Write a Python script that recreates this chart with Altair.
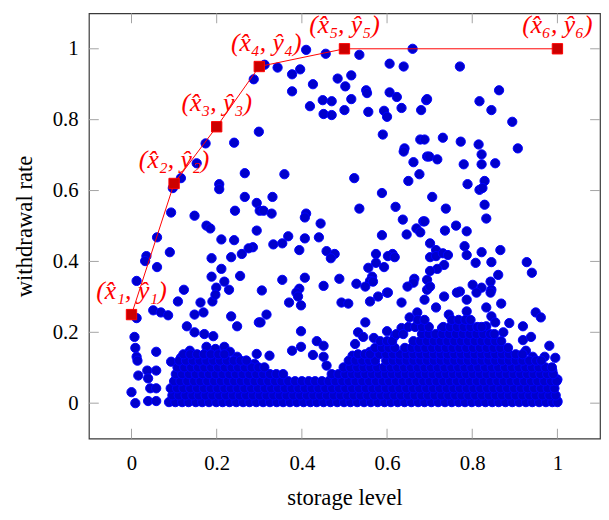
import altair as alt
import pandas as pd

# ---------------- data ----------------
# scattered (sparse) observations: storage level, withdrawal rate
scatter_x = [
    0.41, 0.456, 0.535, 0.66, 0.3125, 0.343, 0.377, 0.396, 0.426, 0.484, 0.516, 0.502, 0.606, 0.639,
    0.377, 0.449, 0.47, 0.516, 0.551, 0.553, 0.606, 0.623, 0.634, 0.419, 0.451, 0.47, 0.5, 0.556,
    0.593, 0.6, 0.68, 0.692, 0.59, 0.641, 0.678, 0.299, 0.771, 0.694, 0.817, 0.863, 0.845, 0.894,
    0.731, 0.773, 0.815, 0.907, 0.688, 0.287, 0.174, 0.241,
    0.153, 0.116, 0.097, 0.266, 0.206, 0.206, 0.266, 0.294, 0.301, 0.093, 0.148, 0.243, 0.176, 0.185,
    0.294, 0.06, 0.211, 0.241, 0.285, 0.275, 0.259, 0.234, 0.09, 0.035, 0.032, 0.188, 0.06, 0.211,
    0.188, 0.255, 0.218, 0.199, 0.229, 0.012, 0.123,
    0.359, 0.523, 0.588, 0.639, 0.662, 0.676, 0.65, 0.694, 0.331, 0.31, 0.329, 0.41, 0.407, 0.444,
    0.535, 0.62, 0.637, 0.685, 0.669, 0.678, 0.646, 0.588, 0.368, 0.354, 0.333, 0.407, 0.44, 0.394,
    0.458, 0.477, 0.468, 0.574, 0.613, 0.602, 0.618, 0.556, 0.574, 0.593, 0.565, 0.56, 0.354, 0.407,
    0.488, 0.451, 0.528, 0.549, 0.567, 0.394, 0.387, 0.306, 0.664, 0.662, 0.648, 0.694, 0.694, 0.6,
    0.822, 0.822, 0.854, 0.78, 0.699, 0.718, 0.789, 0.829, 0.817, 0.824, 0.706, 0.738, 0.829, 0.833,
    0.688, 0.736, 0.762, 0.787, 0.701, 0.715, 0.782, 0.787, 0.822, 0.866, 0.845, 0.808, 0.928, 0.94,
    0.701, 0.715, 0.731, 0.743, 0.734, 0.718, 0.701, 0.861, 0.843, 0.801, 0.822, 0.845, 0.771, 0.701,
    0.012, 0.051, 0.069, 0.086, 0.109, 0.148, 0.169, 0.162, 0.19, 0.197, 0.234, 0.248, 0.299, 0.13,
    0.148, 0.171, 0.192, 0.176, 0.197, 0.218, 0.231, 0.248, 0.269, 0.289, 0.007, 0.009, 0.012, 0.014,
    0.058, 0.093, 0.116, 0.137, 0.016, 0.0, 0.009, 0.037, 0.058, 0.039, 0.044, 0.058, 0.039, 0.058,
    0.093,
    0.37, 0.391, 0.398, 0.317, 0.303, 0.493, 0.509, 0.56, 0.579, 0.602, 0.634, 0.549, 0.398, 0.435,
    0.451, 0.451, 0.458, 0.426, 0.377, 0.398, 0.324, 0.294, 0.532, 0.525, 0.519, 0.544, 0.569, 0.6,
    0.618, 0.634, 0.653, 0.671, 0.683, 0.56, 0.59, 0.6,
    0.868, 0.949, 0.961, 0.919, 0.887, 0.919, 0.938, 0.981, 0.995, 1.0, 1.0, 0.926, 0.942, 0.97,
    0.988, 0.764, 0.787, 0.81, 0.843, 0.833, 0.845, 0.688, 0.715, 0.734, 0.745, 0.729, 0.787, 0.81,
    0.833, 0.854, 0.873,
]
scatter_y = [
    0.997, 0.986, 0.983, 1.0, 0.955, 0.947, 0.928, 0.942, 0.9, 0.916, 0.925, 0.894, 0.958, 0.95,
    0.88, 0.855, 0.852, 0.858, 0.883, 0.875, 0.877, 0.864, 0.833, 0.838, 0.816, 0.813, 0.827, 0.822,
    0.825, 0.808, 0.827, 0.855, 0.758, 0.719, 0.744, 0.766, 0.95, 0.858, 0.852, 0.883, 0.827, 0.794,
    0.749, 0.738, 0.73, 0.719, 0.744, 0.914, 0.733, 0.735,
    0.677, 0.635, 0.607, 0.649, 0.618, 0.604, 0.582, 0.565, 0.543, 0.538, 0.529, 0.543, 0.501, 0.493,
    0.487, 0.468, 0.462, 0.46, 0.44, 0.437, 0.421, 0.412, 0.426, 0.415, 0.401, 0.409, 0.384, 0.379,
    0.357, 0.359, 0.343, 0.326, 0.32, 0.345, 0.32,
    0.646, 0.635, 0.593, 0.71, 0.68, 0.646, 0.627, 0.696, 0.582, 0.543, 0.535, 0.535, 0.524, 0.507,
    0.549, 0.554, 0.518, 0.513, 0.493, 0.482, 0.476, 0.474, 0.471, 0.451, 0.448, 0.465, 0.468, 0.432,
    0.429, 0.421, 0.409, 0.421, 0.421, 0.415, 0.412, 0.382, 0.396, 0.384, 0.357, 0.345, 0.348, 0.354,
    0.351, 0.331, 0.337, 0.329, 0.343, 0.323, 0.312, 0.318, 0.351, 0.34, 0.329, 0.348, 0.32, 0.312,
    0.702, 0.674, 0.677, 0.674, 0.696, 0.688, 0.618, 0.627, 0.602, 0.607, 0.582, 0.549, 0.56, 0.521,
    0.513, 0.487, 0.501, 0.485, 0.451, 0.432, 0.443, 0.418, 0.426, 0.432, 0.398, 0.396, 0.398, 0.368,
    0.412, 0.415, 0.423, 0.418, 0.39, 0.379, 0.373, 0.362, 0.343, 0.334, 0.326, 0.32, 0.315, 0.329,
    0.24, 0.262, 0.256, 0.248, 0.287, 0.25, 0.256, 0.284, 0.287, 0.306, 0.245, 0.217, 0.228, 0.217,
    0.2, 0.195, 0.189, 0.159, 0.153, 0.159, 0.145, 0.131, 0.12, 0.111, 0.187, 0.156, 0.131, 0.12,
    0.145, 0.117, 0.128, 0.148, 0.078, 0.031, 0.0, 0.092, 0.092, 0.07, 0.042, 0.042, 0.006, 0.006,
    0.006,
    0.284, 0.301, 0.276, 0.25, 0.228, 0.284, 0.281, 0.287, 0.301, 0.312, 0.284, 0.228, 0.203, 0.175,
    0.162, 0.131, 0.106, 0.136, 0.148, 0.159, 0.134, 0.139, 0.2, 0.167, 0.134, 0.187, 0.184, 0.203,
    0.189, 0.212, 0.242, 0.256, 0.228, 0.145, 0.153, 0.16,
    0.281, 0.256, 0.242, 0.217, 0.226, 0.178, 0.187, 0.162, 0.128, 0.067, 0.006, 0.148, 0.131, 0.131,
    0.092, 0.312, 0.292, 0.312, 0.312, 0.27, 0.245, 0.292, 0.27, 0.301, 0.25, 0.212, 0.259, 0.209,
    0.217, 0.228, 0.2,
]

# dense band of observations near zero withdrawal (read row by row)
band_y = [0.003, 0.022, 0.042, 0.062, 0.082, 0.101, 0.12, 0.138, 0.156, 0.175, 0.195, 0.215, 0.235]
band_x = [
    [0.088, 0.103, 0.119, 0.134, 0.151, 0.166, 0.182, 0.199, 0.214, 0.230, 0.246, 0.262, 0.277, 0.293,
     0.309, 0.325, 0.341, 0.356, 0.372, 0.388, 0.404, 0.420, 0.435, 0.451, 0.467, 0.483, 0.499, 0.514,
     0.530, 0.546, 0.562, 0.578, 0.594, 0.609, 0.625, 0.641, 0.657, 0.673, 0.688, 0.704, 0.720, 0.736,
     0.752, 0.768, 0.783, 0.799, 0.815, 0.831, 0.847, 0.862, 0.878, 0.894, 0.910, 0.926, 0.941, 0.957,
     0.973, 0.988, 1.000],
    [0.096, 0.111, 0.127, 0.143, 0.158, 0.174, 0.190, 0.206, 0.222, 0.238, 0.254, 0.269, 0.285, 0.301,
     0.317, 0.333, 0.348, 0.364, 0.380, 0.396, 0.412, 0.427, 0.443, 0.459, 0.475, 0.491, 0.507, 0.522,
     0.538, 0.554, 0.570, 0.586, 0.601, 0.617, 0.633, 0.649, 0.665, 0.681, 0.696, 0.712, 0.728, 0.744,
     0.760, 0.775, 0.791, 0.807, 0.823, 0.839, 0.855, 0.870, 0.886, 0.902, 0.918, 0.934, 0.949, 0.965,
     0.981, 0.996],
    [0.092, 0.107, 0.122, 0.138, 0.154, 0.170, 0.186, 0.202, 0.218, 0.233, 0.249, 0.265, 0.281, 0.297,
     0.313, 0.328, 0.344, 0.360, 0.376, 0.392, 0.407, 0.423, 0.439, 0.455, 0.471, 0.487, 0.502, 0.518,
     0.534, 0.550, 0.566, 0.581, 0.597, 0.613, 0.629, 0.645, 0.661, 0.676, 0.692, 0.708, 0.724, 0.740,
     0.756, 0.771, 0.787, 0.803, 0.819, 0.835, 0.850, 0.866, 0.882, 0.898, 0.914, 0.930, 0.945, 0.961,
     0.977, 0.993],
    [0.100, 0.115, 0.131, 0.147, 0.162, 0.178, 0.194, 0.210, 0.226, 0.241, 0.257, 0.273, 0.289, 0.305,
     0.321, 0.337, 0.352, 0.368, 0.384, 0.400, 0.416, 0.431, 0.447, 0.463, 0.479, 0.495, 0.510, 0.526,
     0.542, 0.558, 0.574, 0.590, 0.605, 0.621, 0.637, 0.653, 0.669, 0.685, 0.700, 0.716, 0.732, 0.748,
     0.764, 0.779, 0.795, 0.811, 0.827, 0.843, 0.859, 0.874, 0.890, 0.906, 0.922, 0.938, 0.953, 0.969,
     0.985, 0.998],
    [0.104, 0.119, 0.135, 0.151, 0.167, 0.182, 0.198, 0.214, 0.230, 0.245, 0.261, 0.277, 0.293, 0.309,
     0.325, 0.340, 0.356, 0.470, 0.486, 0.502, 0.518, 0.533, 0.549, 0.565, 0.581, 0.597, 0.612, 0.628,
     0.644, 0.660, 0.676, 0.691, 0.707, 0.723, 0.739, 0.755, 0.771, 0.786, 0.802, 0.818, 0.834, 0.850,
     0.865, 0.881, 0.897, 0.913, 0.929, 0.944, 0.960, 0.976, 0.990],
    [0.108, 0.124, 0.140, 0.156, 0.171, 0.187, 0.203, 0.219, 0.235, 0.250, 0.266, 0.282, 0.298, 0.312,
     0.498, 0.514, 0.530, 0.545, 0.561, 0.577, 0.593, 0.609, 0.624, 0.640, 0.656, 0.672, 0.688, 0.703,
     0.719, 0.735, 0.751, 0.767, 0.782, 0.798, 0.814, 0.830, 0.846, 0.861, 0.877, 0.893, 0.909, 0.925,
     0.940, 0.956, 0.972, 0.987],
    [0.112, 0.128, 0.144, 0.160, 0.176, 0.192, 0.208, 0.224, 0.240, 0.256, 0.270, 0.510, 0.526, 0.542,
     0.558, 0.572, 0.598, 0.614, 0.630, 0.646, 0.662, 0.678, 0.694, 0.710, 0.726, 0.742, 0.758, 0.774,
     0.790, 0.806, 0.822, 0.838, 0.854, 0.870, 0.886, 0.902, 0.918, 0.934, 0.950, 0.962],
    [0.122, 0.138, 0.154, 0.170, 0.186, 0.204, 0.218, 0.532, 0.548, 0.560, 0.582, 0.598, 0.614, 0.630,
     0.646, 0.662, 0.678, 0.694, 0.710, 0.726, 0.742, 0.758, 0.774, 0.790, 0.806, 0.822, 0.838, 0.854,
     0.870, 0.886, 0.902, 0.918],
    [0.572, 0.588, 0.604, 0.618, 0.642, 0.658, 0.674, 0.690, 0.706, 0.722, 0.738, 0.754, 0.770, 0.786,
     0.802, 0.818, 0.834, 0.850, 0.866, 0.884],
    [0.584, 0.600, 0.612, 0.662, 0.678, 0.694, 0.710, 0.726, 0.742, 0.758, 0.774, 0.790, 0.806, 0.822,
     0.838, 0.854, 0.868],
    [0.622, 0.638, 0.682, 0.698, 0.714, 0.730, 0.746, 0.762, 0.778, 0.794, 0.810, 0.826, 0.842, 0.852],
    [0.650, 0.666, 0.682, 0.698, 0.732, 0.748, 0.764, 0.780, 0.796, 0.812, 0.822],
    [0.672, 0.688, 0.752, 0.768, 0.784, 0.796],
]

# piecewise-linear rule (red)
knot_x = [0.0, 0.1, 0.2, 0.3, 0.5, 1.0]
knot_y = [0.25, 0.62, 0.78, 0.95, 1.0, 1.0]
knot_labels = [
    "(x\u0302\u2081, \u0177\u2081)",
    "(x\u0302\u2082, \u0177\u2082)",
    "(x\u0302\u2083, \u0177\u2083)",
    "(x\u0302\u2084, \u0177\u2084)",
    "(x\u0302\u2085, \u0177\u2085)",
    "(x\u0302\u2086, \u0177\u2086)",
]

tick_values = [0, 0.2, 0.4, 0.6, 0.8, 1]
x_title = "storage level"
y_title = "withdrawal rate"

# ---------------- tables ----------------
pts_x = list(scatter_x)
pts_y = list(scatter_y)
for yv, row in zip(band_y, band_x):
    pts_x.extend(row)
    pts_y.extend([yv] * len(row))
points = pd.DataFrame({"s": pts_x, "w": pts_y})
knots = pd.DataFrame({"s": knot_x, "w": knot_y, "lab": knot_labels})
ticks = pd.DataFrame({"t": tick_values})

FONT = "Liberation Serif"
W, H = 518, 431

xs = alt.Scale(domain=[-0.1, 1.1], nice=False, zero=False)
ys = alt.Scale(domain=[-0.1, 1.1], nice=False, zero=False)

x_axis = alt.Axis(values=tick_values, labelExpr="datum.value", ticks=False, tickSize=0,
                  domain=False, grid=False, labelFont=FONT, labelFontSize=21,
                  labelColor="black", labelPadding=14, title=x_title, titleFont=FONT,
                  titleFontSize=23, titleFontWeight="normal", titleColor="black",
                  titlePadding=14)
y_axis = alt.Axis(values=tick_values, labelExpr="datum.value", ticks=False, tickSize=0,
                  domain=False, grid=False, labelFont=FONT, labelFontSize=21,
                  labelColor="black", labelPadding=11, title=y_title, titleFont=FONT,
                  titleFontSize=23, titleFontWeight="normal", titleColor="black",
                  titlePadding=16)

TICK_COLOR = "#a3a3a3"

scatter = alt.Chart(points).mark_circle(
    size=88, color="#0000cc", fill="#0000cc", stroke="#0000ff", strokeWidth=1, opacity=1
).encode(
    x=alt.X("s:Q", scale=xs, axis=x_axis),
    y=alt.Y("w:Q", scale=ys, axis=y_axis),
)

tick_b = alt.Chart(ticks).mark_rule(color=TICK_COLOR, strokeWidth=1).encode(
    x=alt.X("t:Q", scale=xs), y=alt.value(H), y2=alt.value(H - 10))
tick_t = alt.Chart(ticks).mark_rule(color=TICK_COLOR, strokeWidth=1).encode(
    x=alt.X("t:Q", scale=xs), y=alt.value(0), y2=alt.value(10))
tick_l = alt.Chart(ticks).mark_rule(color=TICK_COLOR, strokeWidth=1).encode(
    y=alt.Y("t:Q", scale=ys), x=alt.value(0), x2=alt.value(10))
tick_r = alt.Chart(ticks).mark_rule(color=TICK_COLOR, strokeWidth=1).encode(
    y=alt.Y("t:Q", scale=ys), x=alt.value(W), x2=alt.value(W - 10))

line = alt.Chart(knots).mark_line(color="#ff0000", strokeWidth=1).encode(
    x=alt.X("s:Q", scale=xs), y=alt.Y("w:Q", scale=ys))

squares = alt.Chart(knots).mark_square(
    size=110, fill="#cc0000", stroke="#ff0000", strokeWidth=1, opacity=1
).encode(x=alt.X("s:Q", scale=xs), y=alt.Y("w:Q", scale=ys))

label_style = dict(baseline="alphabetic", align="center", font=FONT, fontSize=26,
                   fontStyle="italic", color="#ff0000")
labels = alt.Chart(knots).mark_text(dy=-16, **label_style).encode(
    x=alt.X("s:Q", scale=xs), y=alt.Y("w:Q", scale=ys), text="lab:N"
).transform_filter("datum.s != 0.3")
label4 = alt.Chart(knots).mark_text(dy=-16, dx=7, **label_style).encode(
    x=alt.X("s:Q", scale=xs), y=alt.Y("w:Q", scale=ys), text="lab:N"
).transform_filter("datum.s == 0.3")

chart = alt.layer(scatter, tick_b, tick_t, tick_l, tick_r, line, squares, labels, label4).properties(
    width=W, height=H,
    autosize=alt.AutoSizeParams(type="none"),
    padding={"left": 82, "top": 2, "right": 1, "bottom": 75},
    background="white",
).configure_view(stroke="#3a3a3a", strokeWidth=1.2)

chart.save("out.html", embed_options={"renderer": "svg", "actions": False})
